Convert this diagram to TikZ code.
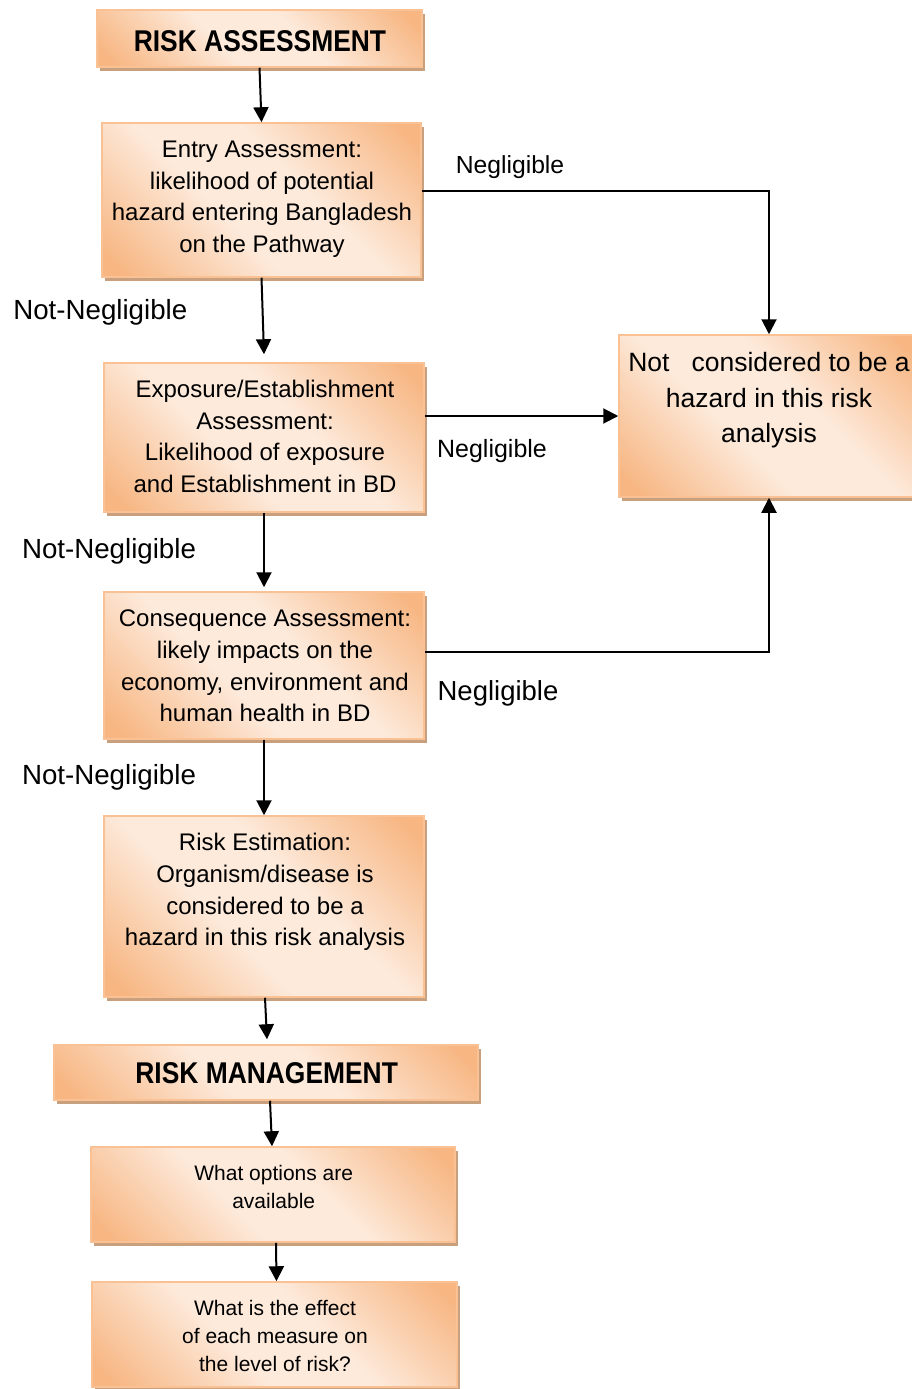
\documentclass[tikz,border=0pt]{standalone}
\usepackage{fontspec}
\setmainfont{Liberation Sans}
\newfontfamily\titlefont[FakeStretch=0.88]{Liberation Sans}
\usetikzlibrary{shadows,arrows.meta}
\definecolor{boxor}{RGB}{247,182,130}
\definecolor{boxlt}{RGB}{253,234,219}
\definecolor{boxedge}{RGB}{250,194,148}
\definecolor{shadowc}{RGB}{201,160,126}
\pgfdeclarehorizontalshading{orangediag}{100bp}{color(0bp)=(boxor); color(18bp)=(boxor); color(42bp)=(boxlt); color(58bp)=(boxlt); color(82bp)=(boxor); color(100bp)=(boxor)}
\newcommand{\bodyf}{\fontsize{24}{31.7}\selectfont}
\newcommand{\smallf}{\fontsize{21}{28}\selectfont}
\newcommand{\bigf}{\fontsize{26.5}{35.5}\selectfont}
\newcommand{\ttlf}{\titlefont\bfseries\fontsize{30}{36}\selectfont}
\begin{document}
\begin{tikzpicture}[x=1pt,y=-1pt,
  boxshape/.style={rectangle, draw=boxedge, line width=1.5pt, shading=orangediag, shading angle=45,
    drop shadow={shadow xshift=3pt, shadow yshift=-4pt, fill=shadowc, opacity=1}, inner sep=0pt},
  txt/.style={align=center, inner sep=0pt, text=black},
  lbl/.style={inner sep=0pt, anchor=base, text=black},
  arr/.style={line width=2pt, -{Triangle[length=15pt,width=15pt]}},
  seg/.style={line width=2pt}]
\useasboundingbox (0,0) rectangle (912,1389);
% boxes
\node[boxshape, minimum width=325pt, minimum height=57pt] (A) at (259.5,38.5) {};
\node[boxshape, minimum width=319pt, minimum height=154pt] (B) at (261.5,200) {};
\node[boxshape, minimum width=320pt, minimum height=149pt] (C) at (264,437.5) {};
\node[boxshape, minimum width=320pt, minimum height=147pt] (D) at (264,665.5) {};
\node[boxshape, minimum width=320pt, minimum height=181pt] (E) at (264,906.5) {};
\node[boxshape, minimum width=300pt, minimum height=162pt] (N) at (769,416) {};
\node[boxshape, minimum width=424pt, minimum height=55pt] (F) at (266,1072.5) {};
\node[boxshape, minimum width=364pt, minimum height=95pt] (G) at (273,1194.5) {};
\node[boxshape, minimum width=365pt, minimum height=105pt] (H) at (274.5,1334.5) {};
% texts
\node[lbl, font=\ttlf] (At) at (260,51.5) {RISK ASSESSMENT};
\node[txt, font=\bodyf] (Bt) at (262,198.8) {\strut Entry Assessment:\\likelihood of potential\\hazard entering Bangladesh\\on the Pathway\strut};
\node[txt, font=\bodyf] (Ct) at (265,438.8) {\strut Exposure/Establishment\\Assessment:\\Likelihood of exposure\\and Establishment in BD\strut};
\node[txt, font=\bodyf] (Dt) at (265,668.1) {\strut Consequence Assessment:\\likely impacts on the\\economy, environment and\\human health in BD\strut};
\node[txt, font=\bodyf] (Et) at (265,891.8) {\strut Risk Estimation:\\Organism/disease is\\considered to be a\\hazard in this risk analysis\strut};
\node[txt, font=\bigf] (Nt) at (769,399.9) {\strut Not\ \ \ considered to be a\\hazard in this risk\\analysis\strut};
\node[lbl, font=\ttlf] (Ft) at (266.7,1083.7) {RISK MANAGEMENT};
\node[txt, font=\smallf] (Gt) at (273.7,1189.3) {\strut What options are\\available\strut};
\node[txt, font=\smallf] (Ht) at (275,1337.5) {\strut What is the effect\\of each measure on\\the level of risk?\strut};
% labels
\node[lbl, font=\fontsize{24.7}{30}\selectfont] (L1) at (510,173.3) {Negligible};
\node[lbl, font=\fontsize{25}{30}\selectfont] (L2) at (492,457.3) {Negligible};
\node[lbl, font=\fontsize{27.5}{33}\selectfont] (L3) at (498,700) {Negligible};
\node[lbl, font=\fontsize{27.7}{33}\selectfont] (M1) at (100.3,319.3) {Not-Negligible};
\node[lbl, font=\fontsize{27.7}{33}\selectfont] (M2) at (109,558) {Not-Negligible};
\node[lbl, font=\fontsize{27.7}{33}\selectfont] (M3) at (109,784) {Not-Negligible};
% connectors
\draw[arr] (A.south) -- (B.north);
\draw[arr] (B.south) -- ([yshift=8pt]C.north);
\draw[arr] (C.south) -- ([yshift=4pt]D.north);
\draw[arr] (D.south) -- (E.north);
\draw[arr] ([xshift=1pt]E.south) -- ([xshift=1pt,yshift=5pt]F.north);
\draw[arr] ([xshift=4pt]F.south) -- ([xshift=-1pt]G.north);
\draw[arr] ([xshift=3pt]G.south) -- ([xshift=2pt]H.north);
\draw[arr] ([yshift=9pt]B.east) -| (N.north);
\draw[arr] (C.east |- N.west) -- (N.west);
\draw[arr] ([yshift=13.5pt]D.east) -| (N.south);
\end{tikzpicture}
\end{document}
